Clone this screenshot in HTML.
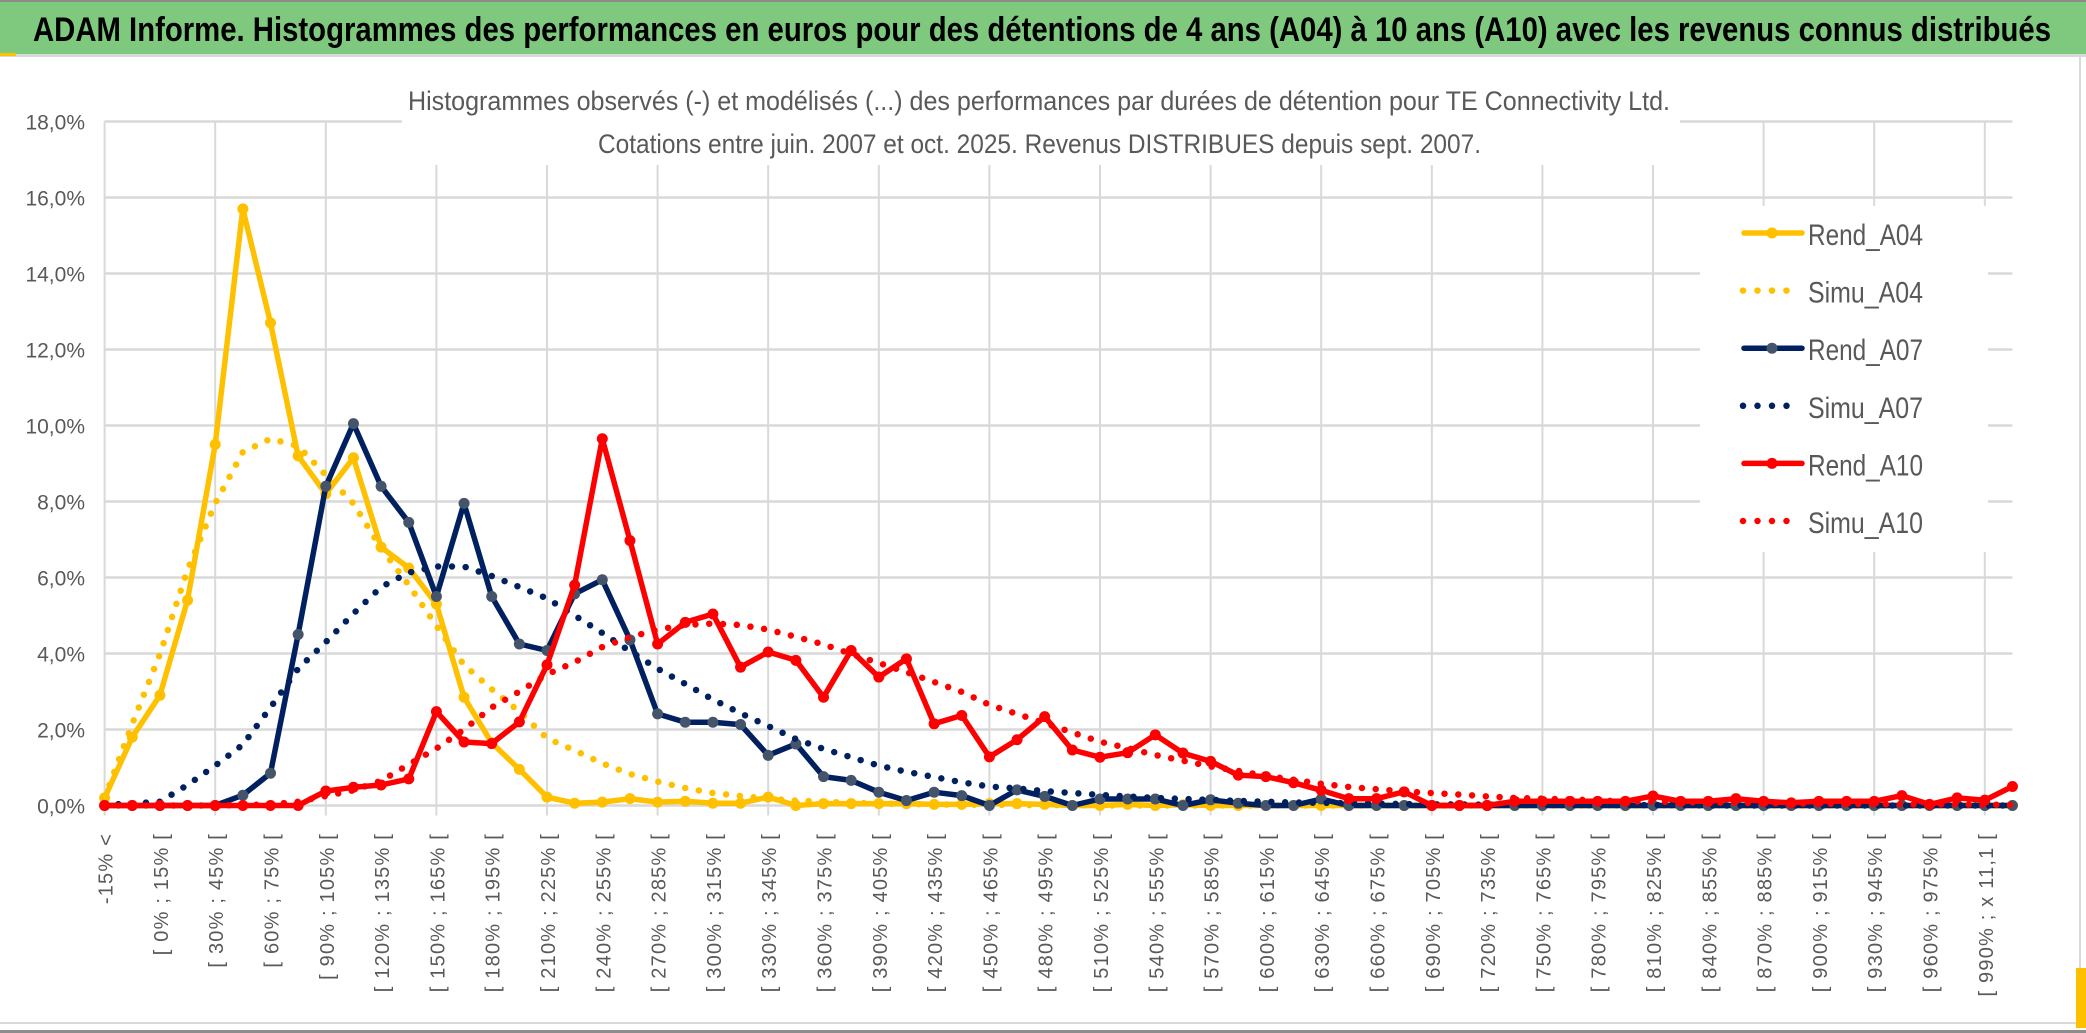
<!DOCTYPE html>
<html><head><meta charset="utf-8"><title>ADAM Informe</title>
<style>
html,body{margin:0;padding:0;background:#fff;}
svg{display:block;}
</style></head>
<body>
<svg id="chart" width="2086" height="1033" viewBox="0 0 2086 1033" xmlns="http://www.w3.org/2000/svg">
  <rect x="0" y="0" width="2086" height="1033" fill="#ffffff"/>
  <rect x="0" y="0" width="2086" height="2" fill="#8c8c8c"/>
  <rect x="0" y="2" width="2086" height="52" fill="#7fc97f"/>
  <rect x="0" y="54" width="2086" height="3" fill="#d9d9d9"/>
  <rect x="0" y="53" width="16" height="3" fill="#ffc000"/>
  <text x="33" y="41" font-family="Liberation Sans Narrow, Liberation Sans, sans-serif" font-weight="bold" font-size="34" fill="#000" textLength="2018" lengthAdjust="spacingAndGlyphs">ADAM Informe. Histogrammes des performances en euros pour des détentions de 4 ans (A04) à 10 ans (A10) avec les revenus connus distribués</text>
  <rect x="2079" y="57" width="2" height="970" fill="#d9d9d9"/>
  <rect x="0" y="1022" width="2086" height="2" fill="#d9d9d9"/>
  <rect x="0" y="1030" width="2086" height="3" fill="#8c8c8c"/>
  <rect x="2076" y="968" width="10" height="60" fill="#ffc000"/>
  <g id="grid"></g>
  <g id="ylabels"></g>
  <g id="xlabels"></g>
  <rect x="402" y="78" width="1278" height="87" fill="#ffffff"/>
  <text x="408" y="110" font-family="Liberation Sans Narrow, Liberation Sans, sans-serif" font-size="27" fill="#595959" textLength="1262" lengthAdjust="spacingAndGlyphs">Histogrammes observés (-) et modélisés (...) des performances par durées de détention pour TE Connectivity Ltd.</text>
  <text x="598" y="153" font-family="Liberation Sans Narrow, Liberation Sans, sans-serif" font-size="27" fill="#595959" textLength="883" lengthAdjust="spacingAndGlyphs">Cotations entre juin. 2007 et oct. 2025. Revenus DISTRIBUES depuis sept. 2007.</text>
  <g id="series"></g>
  <rect x="1700" y="206" width="288" height="346" fill="#ffffff"/>
  <g id="legend"></g>
</svg>
<script>
// ---- data ----
const categories = (function(){const a=["-15% <"];for(let s=-15;s<=990;s+=15){a.push(s===990?"[ 990% ; x 11,1 [":"[ "+s+"% ; "+(s+15)+"% [");}a.push("x 11,1 <");return a;})();
const yTicks = [0,2,4,6,8,10,12,14,16,18];
const yTickLabels = ["0,0%","2,0%","4,0%","6,0%","8,0%","10,0%","12,0%","14,0%","16,0%","18,0%"];
const seriesNames = ["Rend_A04","Simu_A04","Rend_A07","Simu_A07","Rend_A10","Simu_A10"];
const rendA04 = [0.2,1.8,2.9,5.4,9.5,15.7,12.7,9.2,8.2,9.15,6.8,6.25,5.3,2.85,1.65,0.95,0.22,0.06,0.09,0.18,0.09,0.11,0.06,0.06,0.22,0,0.05,0.05,0.05,0.05,0.03,0.03,0.05,0.05,0.03,0,0,0.03,0,0.02,0,0,0,0,0,0,0,0,0,0,0,0,0,0,0,0,0,0,0,0,0,0,0,0,0,0,0,0,0,0];
const simuA04 = [0.2,2.15,3.98,6.2,7.95,9.3,9.65,9.46,8.7,7.95,6.77,5.8,4.73,3.7,3.06,2.47,1.77,1.45,1.11,0.83,0.63,0.46,0.33,0.25,0.18,0.13,0.1,0.07,0.05,0.04,0.03,0.02,0.02,0.01,0.01,0.01,0,0,0,0,0,0,0,0,0,0,0,0,0,0,0,0,0,0,0,0,0,0,0,0,0,0,0,0,0,0,0,0,0,0];
const rendA07 = [0,0,0,0,0,0.27,0.85,4.5,8.4,10.05,8.4,7.45,5.5,7.95,5.5,4.25,4.08,5.57,5.94,4.36,2.41,2.19,2.19,2.13,1.32,1.62,0.76,0.66,0.35,0.13,0.35,0.26,0,0.41,0.24,0,0.17,0.17,0.17,0,0.15,0.06,0,0,0.17,0,0,0,0,0,0,0,0,0,0,0,0,0,0,0,0,0,0,0,0,0,0,0,0,0];
const simuA07 = [0.02,0.05,0.1,0.54,1.05,1.6,2.58,3.6,4.3,5.05,5.75,6.13,6.29,6.29,6.04,5.75,5.45,5.0,4.54,4.06,3.6,3.2,2.79,2.43,2.09,1.75,1.49,1.27,1.05,0.89,0.75,0.61,0.5,0.45,0.38,0.33,0.28,0.24,0.2,0.17,0.15,0.12,0.1,0.08,0.07,0.06,0.05,0.04,0.03,0.03,0.02,0.02,0.02,0.01,0.01,0.01,0.01,0.01,0,0,0,0,0,0,0,0,0,0,0,0];
const rendA10 = [0,0,0,0,0,0,0,0,0.38,0.48,0.54,0.7,2.47,1.67,1.63,2.2,3.7,5.8,9.65,6.97,4.25,4.82,5.04,3.64,4.04,3.82,2.85,4.08,3.38,3.86,2.15,2.37,1.28,1.73,2.34,1.46,1.27,1.39,1.86,1.38,1.16,0.8,0.76,0.6,0.4,0.18,0.18,0.36,0,0,0,0.11,0.11,0.11,0.11,0.11,0.25,0.11,0.11,0.18,0.11,0.07,0.11,0.11,0.11,0.26,0.03,0.2,0.14,0.5];
const simuA10 = [0,0,0,0,0,0.01,0.03,0.1,0.25,0.4,0.65,1.08,1.5,2.0,2.58,3.0,3.45,3.77,4.17,4.43,4.63,4.75,4.79,4.75,4.63,4.44,4.24,3.99,3.75,3.51,3.25,2.99,2.65,2.41,2.17,1.92,1.68,1.51,1.33,1.18,1.03,0.91,0.78,0.68,0.57,0.49,0.43,0.37,0.33,0.29,0.24,0.2,0.18,0.16,0.13,0.11,0.1,0.09,0.08,0.07,0.06,0.05,0.05,0.04,0.04,0.03,0.03,0.03,0.02,0.02];

// ---- axes ----
const NS="http://www.w3.org/2000/svg";
const X0=104.6, DX=27.65, Y0=805.5, PY=38.0;
function xScale(i){return X0+DX*i;}
function yScale(v){return Y0-PY*v;}
function mk(tag,attrs,parent){const e=document.createElementNS(NS,tag);for(const k in attrs)e.setAttribute(k,attrs[k]);parent.appendChild(e);return e;}

const grid=document.getElementById('grid');
const xLast=xScale(categories.length-1);
yTicks.forEach(function(t,k){
  const l=mk('line',{x1:X0,x2:xLast,y1:yScale(t),y2:yScale(t),stroke:'#d9d9d9','stroke-width':2.5},grid);
  
  
});
for(let i=0;i<categories.length;i+=4){
  const l=mk('line',{x1:xScale(i),x2:xScale(i),y1:yScale(18),y2:yScale(0)+10,stroke:'#d9d9d9','stroke-width':2},grid);
  
  
}
const yl=document.getElementById('ylabels');
yTicks.forEach(function(t,k){
  const tx=mk('text',{x:85,y:yScale(t)+8,'text-anchor':'end','font-family':'Liberation Sans Narrow, Liberation Sans, sans-serif','font-size':21,fill:'#595959'},yl);
  tx.textContent=yTickLabels[k];
  
  
});
const xl=document.getElementById('xlabels');
for(let i=0;i<categories.length;i+=2){
  const x=xScale(i)+8, y=833;
  const tx=mk('text',{x:x,y:y,'text-anchor':'end','font-family':'Liberation Sans, sans-serif','font-size':20,'letter-spacing':'1.2',fill:'#595959',transform:'rotate(-90 '+x+' '+y+')'},xl);
  tx.textContent=categories[i];
  
  
}

// ---- series ----
const layer=document.getElementById('series');
function pts(vals){return vals.map(function(v,i){return xScale(i).toFixed(1)+','+yScale(v).toFixed(1);}).join(' ');}
function solid(vals,color,marker,name){
  const g=mk('g',{},layer);
  
  
  const p=mk('polyline',{points:pts(vals),fill:'none',stroke:color,'stroke-width':5.5,'stroke-linejoin':'round','stroke-linecap':'round'},g);
  
  
  vals.forEach(function(v,i){
    const c=mk('circle',{cx:xScale(i),cy:yScale(v),r:5.5,fill:marker},g);
    
    
  });
}
function dotted(vals,color,name){
  const p=mk('polyline',{points:pts(vals),fill:'none',stroke:color,'stroke-width':6.5,'stroke-dasharray':'0 13.8','stroke-linecap':'round','stroke-linejoin':'round'},layer);
  
  
}
solid(rendA04,'#ffc000','#ffc000','rend-a04-series');
dotted(simuA04,'#ffc000','simu-a04-series');
solid(rendA07,'#002060','#44546a','rend-a07-series');
dotted(simuA07,'#002060','simu-a07-series');
solid(rendA10,'#ff0000','#ff0000','rend-a10-series');
dotted(simuA10,'#ff0000','simu-a10-series');

// ---- legend ----
const lg=document.getElementById('legend');
const legColors=['#ffc000','#ffc000','#002060','#002060','#ff0000','#ff0000'];
const legMarkers=['#ffc000',null,'#44546a',null,'#ff0000',null];
seriesNames.forEach(function(n,k){
  const cy=235+57.6*k;
  const g=mk('g',{},lg);
  
  
  if(legMarkers[k]){
    mk('line',{x1:1744,x2:1802,y1:cy-2,y2:cy-2,stroke:legColors[k],'stroke-width':5.5,'stroke-linecap':'round'},g);
    mk('circle',{cx:1772,cy:cy-2,r:5.5,fill:legMarkers[k]},g);
  } else {
    mk('line',{x1:1743,x2:1800,y1:cy-2,y2:cy-2,stroke:legColors[k],'stroke-width':6.5,'stroke-dasharray':'0 14.5','stroke-linecap':'round'},g);
  }
  const t=mk('text',{x:1808,y:cy+10,'font-family':'Liberation Sans Narrow, Liberation Sans, sans-serif','font-size':30,fill:'#595959',textLength:115,lengthAdjust:'spacingAndGlyphs'},g);
  t.textContent=n;
});
</script>
</body></html>
